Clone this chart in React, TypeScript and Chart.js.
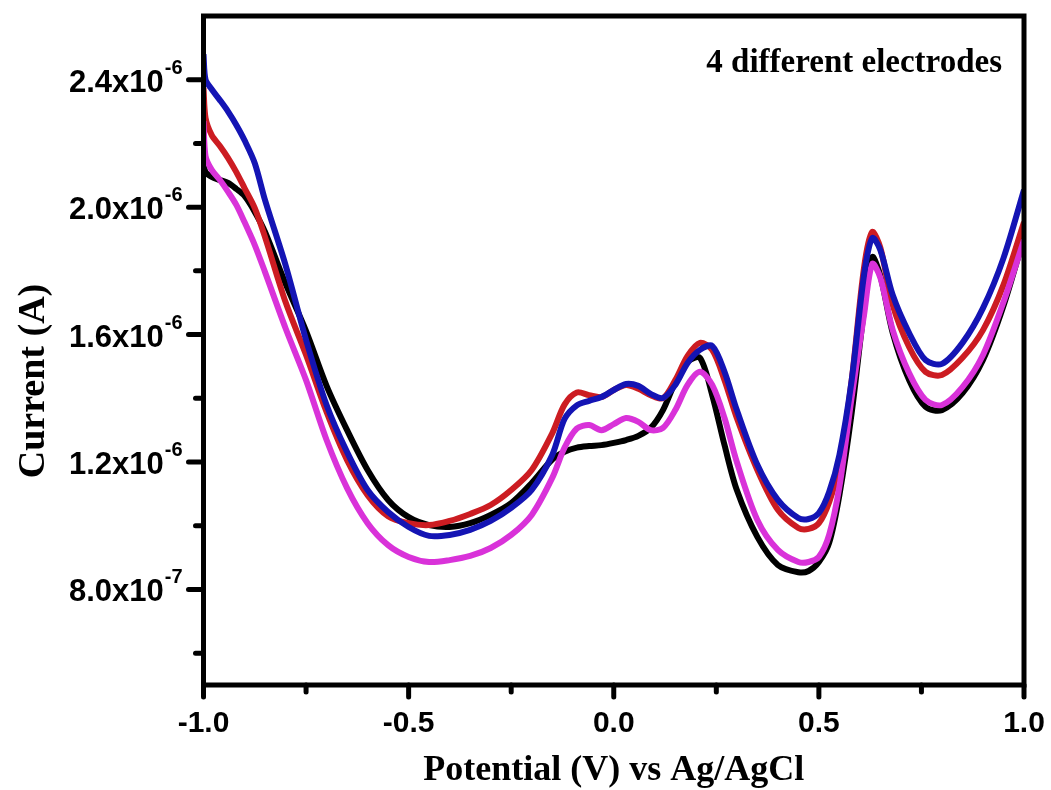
import React, { useEffect, useRef } from 'react';
import { Chart, registerables } from 'chart.js';

Chart.register(...registerables);

// Potential (V) vs Ag/AgCl
const potentials = [
  -1.0, -0.995, -0.98, -0.96, -0.94, -0.92, -0.9, -0.875, -0.85, -0.8, -0.75, -0.7, -0.65, -0.6,
  -0.55, -0.5, -0.45, -0.4, -0.35, -0.3, -0.25, -0.2, -0.15, -0.12, -0.09, -0.06, -0.03, 0.0,
  0.03, 0.06, 0.09, 0.12, 0.15, 0.18, 0.21, 0.24, 0.27, 0.3, 0.35, 0.4, 0.45, 0.475, 0.5, 0.525,
  0.55, 0.58, 0.61, 0.63, 0.65, 0.68, 0.72, 0.76, 0.8, 0.85, 0.9, 0.95, 1.0,
];

// Current (A) for the four electrodes
const electrodeBlack = [
  2.14e-6, 2.11e-6, 2.095e-6, 2.085e-6, 2.076e-6, 2.057e-6, 2.035e-6, 1.985e-6, 1.922e-6, 1.76e-6,
  1.611e-6, 1.439e-6, 1.3e-6, 1.175e-6, 1.081e-6, 1.027e-6, 1.002e-6, 0.996e-6, 1.008e-6, 1.034e-6,
  1.071e-6, 1.134e-6, 1.208e-6, 1.232e-6, 1.245e-6, 1.25e-6, 1.253e-6, 1.26e-6, 1.269e-6, 1.282e-6,
  1.307e-6, 1.363e-6, 1.451e-6, 1.514e-6, 1.527e-6, 1.41e-6, 1.253e-6, 1.112e-6, 0.965e-6, 0.877e-6,
  0.854e-6, 0.858e-6, 0.886e-6, 0.946e-6, 1.096e-6, 1.354e-6, 1.677e-6, 1.843e-6, 1.784e-6, 1.605e-6,
  1.457e-6, 1.373e-6, 1.363e-6, 1.416e-6, 1.52e-6, 1.69e-6, 1.906e-6,
];
const electrodeRed = [
  2.374e-6, 2.28e-6, 2.226e-6, 2.192e-6, 2.154e-6, 2.11e-6, 2.06e-6, 1.997e-6, 1.906e-6, 1.702e-6,
  1.536e-6, 1.357e-6, 1.206e-6, 1.096e-6, 1.03e-6, 1.008e-6, 1.002e-6, 1.015e-6, 1.037e-6, 1.065e-6,
  1.112e-6, 1.175e-6, 1.29e-6, 1.38e-6, 1.418e-6, 1.41e-6, 1.404e-6, 1.426e-6, 1.442e-6, 1.43e-6,
  1.41e-6, 1.4e-6, 1.457e-6, 1.533e-6, 1.574e-6, 1.552e-6, 1.457e-6, 1.338e-6, 1.175e-6, 1.05e-6,
  0.993e-6, 0.99e-6, 1.008e-6, 1.074e-6, 1.19e-6, 1.457e-6, 1.809e-6, 1.922e-6, 1.872e-6, 1.693e-6,
  1.561e-6, 1.483e-6, 1.473e-6, 1.527e-6, 1.614e-6, 1.756e-6, 1.953e-6,
];
const electrodeBlue = [
  2.48e-6, 2.4e-6, 2.37e-6, 2.336e-6, 2.3e-6, 2.258e-6, 2.21e-6, 2.138e-6, 2.022e-6, 1.818e-6,
  1.583e-6, 1.379e-6, 1.231e-6, 1.112e-6, 1.043e-6, 0.996e-6, 0.968e-6, 0.971e-6, 0.987e-6, 1.015e-6,
  1.056e-6, 1.112e-6, 1.222e-6, 1.335e-6, 1.378e-6, 1.392e-6, 1.404e-6, 1.426e-6, 1.445e-6, 1.439e-6,
  1.414e-6, 1.401e-6, 1.442e-6, 1.511e-6, 1.552e-6, 1.564e-6, 1.483e-6, 1.363e-6, 1.191e-6, 1.081e-6,
  1.024e-6, 1.021e-6, 1.04e-6, 1.106e-6, 1.222e-6, 1.457e-6, 1.787e-6, 1.903e-6, 1.865e-6, 1.724e-6,
  1.605e-6, 1.52e-6, 1.508e-6, 1.574e-6, 1.683e-6, 1.84e-6, 2.054e-6,
];
const electrodeMagenta = [
  2.27e-6, 2.16e-6, 2.117e-6, 2.085e-6, 2.048e-6, 2.007e-6, 1.953e-6, 1.881e-6, 1.796e-6, 1.62e-6,
  1.457e-6, 1.269e-6, 1.118e-6, 1.008e-6, 0.939e-6, 0.902e-6, 0.886e-6, 0.892e-6, 0.905e-6, 0.93e-6,
  0.971e-6, 1.034e-6, 1.15e-6, 1.245e-6, 1.305e-6, 1.316e-6, 1.3e-6, 1.319e-6, 1.338e-6, 1.326e-6,
  1.3e-6, 1.307e-6, 1.363e-6, 1.442e-6, 1.483e-6, 1.442e-6, 1.338e-6, 1.2e-6, 1.018e-6, 0.924e-6,
  0.886e-6, 0.886e-6, 0.902e-6, 0.971e-6, 1.122e-6, 1.404e-6, 1.661e-6, 1.822e-6, 1.778e-6, 1.614e-6,
  1.479e-6, 1.395e-6, 1.379e-6, 1.435e-6, 1.536e-6, 1.702e-6, 1.897e-6,
];

const xMajorTicks = [-1.0, -0.5, 0.0, 0.5, 1.0];
const xTickLabels = ['-1.0', '-0.5', '0.0', '0.5', '1.0'];
const xMinorTicks = [-0.75, -0.25, 0.25, 0.75];
const yMajorTicks = [8e-7, 1.2e-6, 1.6e-6, 2.0e-6, 2.4e-6];
const yTickMantissas = ['8.0x10', '1.2x10', '1.6x10', '2.0x10', '2.4x10'];
const yTickExponents = ['-7', '-6', '-6', '-6', '-6'];
const yMinorTicks = [6e-7, 1.0e-6, 1.4e-6, 1.8e-6, 2.2e-6];

const xTitle = 'Potential (V) vs Ag/AgCl';
const yTitle = 'Current (A)';
const annotation = '4 different electrodes';

const SANS = '"Liberation Sans", Arial, sans-serif';
const SERIF = '"Liberation Serif", "Times New Roman", serif';

const framePlugin = {
  id: 'framePlugin',
  afterDatasetsDraw(chart: any) {
    const { ctx, chartArea: a, scales } = chart;
    const xs = scales.x;
    const ys = scales.y;
    ctx.save();
    ctx.strokeStyle = '#000';
    ctx.fillStyle = '#000';

    // ticks
    ctx.lineWidth = 5;
    ctx.lineCap = 'round';
    yMajorTicks.forEach((v) => {
      const py = ys.getPixelForValue(v);
      ctx.beginPath();
      ctx.moveTo(a.left - 15, py);
      ctx.lineTo(a.left, py);
      ctx.stroke();
    });
    yMinorTicks.forEach((v) => {
      const py = ys.getPixelForValue(v);
      ctx.beginPath();
      ctx.moveTo(a.left - 8, py);
      ctx.lineTo(a.left, py);
      ctx.stroke();
    });
    xMajorTicks.forEach((v) => {
      const px = xs.getPixelForValue(v);
      ctx.beginPath();
      ctx.moveTo(px, a.bottom);
      ctx.lineTo(px, a.bottom + 12);
      ctx.stroke();
    });
    xMinorTicks.forEach((v) => {
      const px = xs.getPixelForValue(v);
      ctx.beginPath();
      ctx.moveTo(px, a.bottom);
      ctx.lineTo(px, a.bottom + 7);
      ctx.stroke();
    });

    // frame
    ctx.lineCap = 'butt';
    ctx.lineWidth = 5;
    ctx.strokeRect(a.left, a.top, a.right - a.left, a.bottom - a.top);

    // y tick labels
    ctx.textBaseline = 'alphabetic';
    yMajorTicks.forEach((v, i) => {
      const py = ys.getPixelForValue(v);
      const right = a.left - 21;
      ctx.font = `bold 20px ${SANS}`;
      ctx.textAlign = 'right';
      const ew = ctx.measureText(yTickExponents[i]).width;
      ctx.fillText(yTickExponents[i], right, py - 6);
      ctx.font = `bold 31px ${SANS}`;
      ctx.fillText(yTickMantissas[i], right - ew - 1, py + 12);
    });

    // x tick labels
    ctx.font = `bold 30px ${SANS}`;
    ctx.textAlign = 'center';
    xMajorTicks.forEach((v, i) => {
      const px = xs.getPixelForValue(v);
      ctx.fillText(xTickLabels[i], px, a.bottom + 47);
    });

    // axis titles
    ctx.font = `bold 36px ${SERIF}`;
    ctx.textAlign = 'center';
    ctx.fillText(xTitle, (a.left + a.right) / 2, 780);
    ctx.save();
    ctx.font = `bold 38px ${SERIF}`;
    ctx.translate(44, 381);
    ctx.rotate(-Math.PI / 2);
    ctx.fillText(yTitle, 0, 0);
    ctx.restore();

    // annotation
    ctx.font = `bold 33px ${SERIF}`;
    ctx.textAlign = 'right';
    ctx.fillText(annotation, 1002, 72);

    ctx.restore();
  },
};

function series(values: number[]) {
  return potentials.map((x, i) => ({ x, y: values[i] }));
}

export default function App() {
  const canvasRef = useRef<HTMLCanvasElement | null>(null);

  useEffect(() => {
    document.body.style.margin = '0';
    const canvas = canvasRef.current;
    if (!canvas) return;
    const common = {
      borderWidth: 6,
      pointRadius: 0,
      fill: false,
      tension: 0.3,
      borderJoinStyle: 'round' as const,
    };
    const chart = new Chart(canvas, {
      type: 'line',
      data: {
        datasets: [
          { ...common, label: 'Electrode 3', data: series(electrodeBlue), borderColor: '#1414b4' },
          { ...common, label: 'Electrode 4', data: series(electrodeMagenta), borderColor: '#d932d9' },
          { ...common, label: 'Electrode 2', data: series(electrodeRed), borderColor: '#cc1c22' },
          { ...common, label: 'Electrode 1', data: series(electrodeBlack), borderColor: '#000000' },
        ],
      },
      options: {
        animation: false,
        responsive: false,
        devicePixelRatio: 1,
        layout: { padding: { left: 203.5, right: 27, top: 16, bottom: 105 } },
        scales: {
          x: { type: 'linear', min: -1, max: 1, display: false },
          y: { type: 'linear', min: 5e-7, max: 2.6e-6, display: false },
        },
        plugins: {
          legend: { display: false },
          tooltip: { enabled: false },
        },
      },
      plugins: [framePlugin],
    });
    return () => chart.destroy();
  }, []);

  return (
    <div style={{ width: 1051, height: 790, background: '#fff' }}>
      <canvas ref={canvasRef} width={1051} height={790} style={{ display: 'block' }} />
    </div>
  );
}
